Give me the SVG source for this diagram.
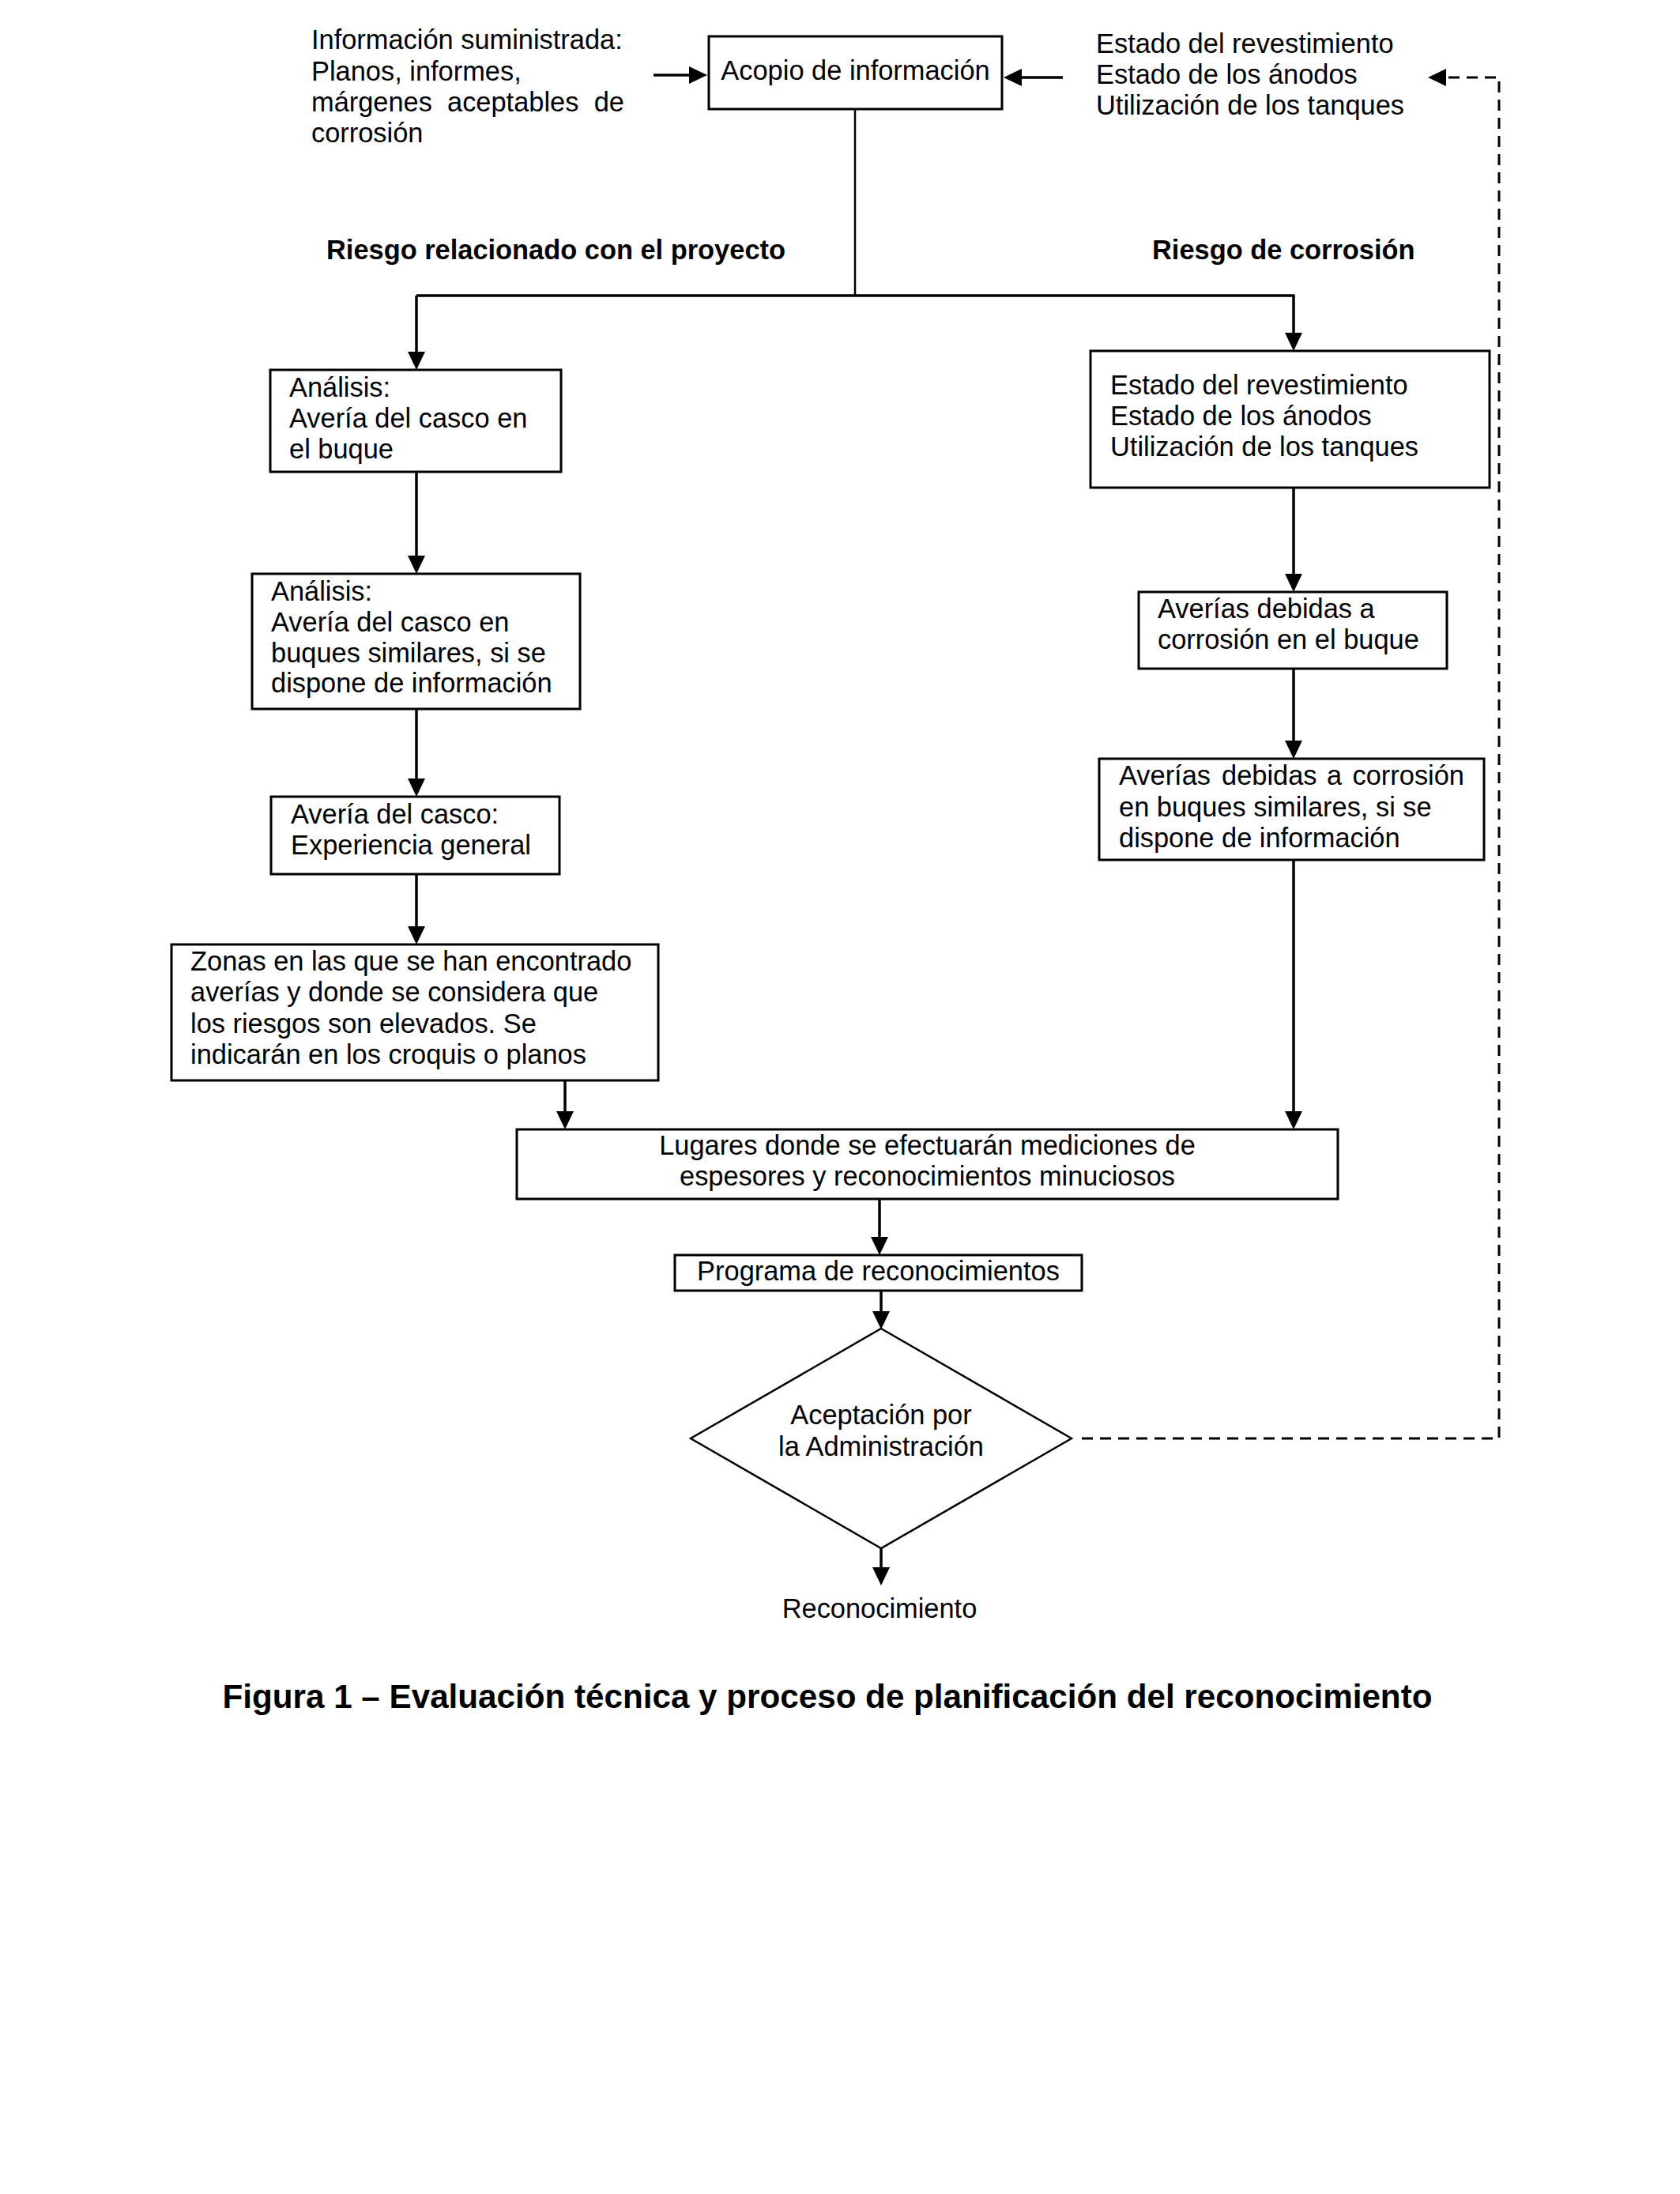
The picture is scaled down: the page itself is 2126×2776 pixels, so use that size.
<svg xmlns="http://www.w3.org/2000/svg" width="2126" height="2776" viewBox="0 0 2126 2776">
<style>
text{font-family:"Liberation Sans",Arial,sans-serif;font-size:34.4px;fill:#000}
.b{font-weight:bold}
.cap{font-weight:bold;font-size:42.2px}
.m{text-anchor:middle}
.box{fill:#fff;stroke:#000;stroke-width:3}
.ln{fill:none;stroke:#000;stroke-width:3.5}
.thin{fill:none;stroke:#000;stroke-width:2.5}
.dash{fill:none;stroke:#000;stroke-width:3;stroke-dasharray:14 9}
</style>
<defs>
<marker id="ah" markerUnits="userSpaceOnUse" markerWidth="24" markerHeight="24" refX="13" refY="11" orient="auto">
<path d="M0,0 L23,11 L0,22 Z" fill="#000"/>
</marker>
</defs>
<rect width="2126" height="2776" fill="#fff"/>

<g id="connectors">
<line class="ln" x1="827" y1="95" x2="885" y2="95" marker-end="url(#ah)"/>
<line class="ln" x1="1345" y1="98" x2="1280" y2="98" marker-end="url(#ah)"/>
<line class="thin" x1="1082" y1="138" x2="1082" y2="374"/>
<line class="ln" x1="527" y1="374" x2="1638.5" y2="374"/>
<line class="ln" x1="527" y1="374" x2="527" y2="458" marker-end="url(#ah)"/>
<line class="ln" x1="1637" y1="374" x2="1637" y2="434" marker-end="url(#ah)"/>
<line class="ln" x1="527" y1="597" x2="527" y2="716" marker-end="url(#ah)"/>
<line class="ln" x1="527" y1="897" x2="527" y2="998" marker-end="url(#ah)"/>
<line class="ln" x1="527" y1="1106" x2="527" y2="1185" marker-end="url(#ah)"/>
<line class="ln" x1="715" y1="1367" x2="715" y2="1419" marker-end="url(#ah)"/>
<line class="ln" x1="1637" y1="617" x2="1637" y2="739" marker-end="url(#ah)"/>
<line class="ln" x1="1637" y1="846" x2="1637" y2="950" marker-end="url(#ah)"/>
<line class="ln" x1="1637" y1="1088" x2="1637" y2="1419" marker-end="url(#ah)"/>
<line class="ln" x1="1113" y1="1517" x2="1113" y2="1578" marker-end="url(#ah)"/>
<line class="ln" x1="1115" y1="1633" x2="1115" y2="1672" marker-end="url(#ah)"/>
<line class="ln" x1="1115" y1="1959" x2="1115" y2="1996" marker-end="url(#ah)"/>
<path class="dash" d="M1369,1820 H1897 V98 H1817" marker-end="url(#ah)"/>
</g>

<g id="info-left">
<text x="394" y="62">Información suministrada:</text>
<text x="394" y="102">Planos, informes,</text>
<text y="141"><tspan x="394">márgenes</tspan><tspan x="566">aceptables</tspan><tspan x="790" style="text-anchor:end">de</tspan></text>
<text x="394" y="180">corrosión</text>
</g>

<g id="acopio">
<rect class="box" x="897" y="46" width="371" height="92"/>
<text class="m" x="1082.5" y="101">Acopio de información</text>
</g>

<g id="info-right">
<text x="1387" y="67">Estado del revestimiento</text>
<text x="1387" y="106">Estado de los ánodos</text>
<text x="1387" y="145">Utilización de los tanques</text>
</g>

<g id="labels">
<text class="b" x="413" y="328">Riesgo relacionado con el proyecto</text>
<text class="b" x="1458" y="328">Riesgo de corrosión</text>
</g>

<g id="a1">
<rect class="box" x="342" y="468" width="368" height="129"/>
<text x="366" y="502">Análisis:</text>
<text x="366" y="541">Avería del casco en</text>
<text x="366" y="580">el buque</text>
</g>

<g id="a2">
<rect class="box" x="319" y="726" width="415" height="171"/>
<text x="343" y="760">Análisis:</text>
<text x="343" y="799">Avería del casco en</text>
<text x="343" y="838">buques similares, si se</text>
<text x="343" y="876">dispone de información</text>
</g>

<g id="a3">
<rect class="box" x="343" y="1008" width="365" height="98"/>
<text x="368" y="1042">Avería del casco:</text>
<text x="368" y="1081">Experiencia general</text>
</g>

<g id="a4">
<rect class="box" x="217" y="1195" width="616" height="172"/>
<text x="241" y="1228">Zonas en las que se han encontrado</text>
<text x="241" y="1267">averías y donde se considera que</text>
<text x="241" y="1307">los riesgos son elevados. Se</text>
<text x="241" y="1346">indicarán en los croquis o planos</text>
</g>

<g id="b1">
<rect class="box" x="1380" y="444" width="505" height="173"/>
<text x="1405" y="499">Estado del revestimiento</text>
<text x="1405" y="538">Estado de los ánodos</text>
<text x="1405" y="577">Utilización de los tanques</text>
</g>

<g id="b2">
<rect class="box" x="1441" y="749" width="390" height="97"/>
<text x="1465" y="782">Averías debidas a</text>
<text x="1465" y="821">corrosión en el buque</text>
</g>

<g id="b3">
<rect class="box" x="1391" y="960" width="487" height="128"/>
<text y="993"><tspan x="1416">Averías</tspan><tspan x="1546">debidas</tspan><tspan x="1679">a</tspan><tspan x="1853" style="text-anchor:end">corrosión</tspan></text>
<text x="1416" y="1033">en buques similares, si se</text>
<text x="1416" y="1072">dispone de información</text>
</g>

<g id="lugares">
<rect class="box" x="654" y="1429" width="1039" height="88"/>
<text class="m" x="1173.5" y="1461">Lugares donde se efectuarán mediciones de</text>
<text class="m" x="1173.5" y="1500">espesores y reconocimientos minuciosos</text>
</g>

<g id="programa">
<rect class="box" x="854" y="1588" width="515" height="45"/>
<text class="m" x="1111.5" y="1620">Programa de reconocimientos</text>
</g>

<g id="aceptacion">
<polygon points="1115,1681 1356,1820 1115,1959 874,1820" fill="#fff" stroke="#000" stroke-width="2.5"/>
<text class="m" x="1115" y="1802">Aceptación por</text>
<text class="m" x="1115" y="1842">la Administración</text>
</g>

<g id="reconocimiento">
<text class="m" x="1113" y="2047">Reconocimiento</text>
</g>

<g id="caption">
<text class="cap m" x="1047" y="2161">Figura 1 – Evaluación técnica y proceso de planificación del reconocimiento</text>
</g>
</svg>
